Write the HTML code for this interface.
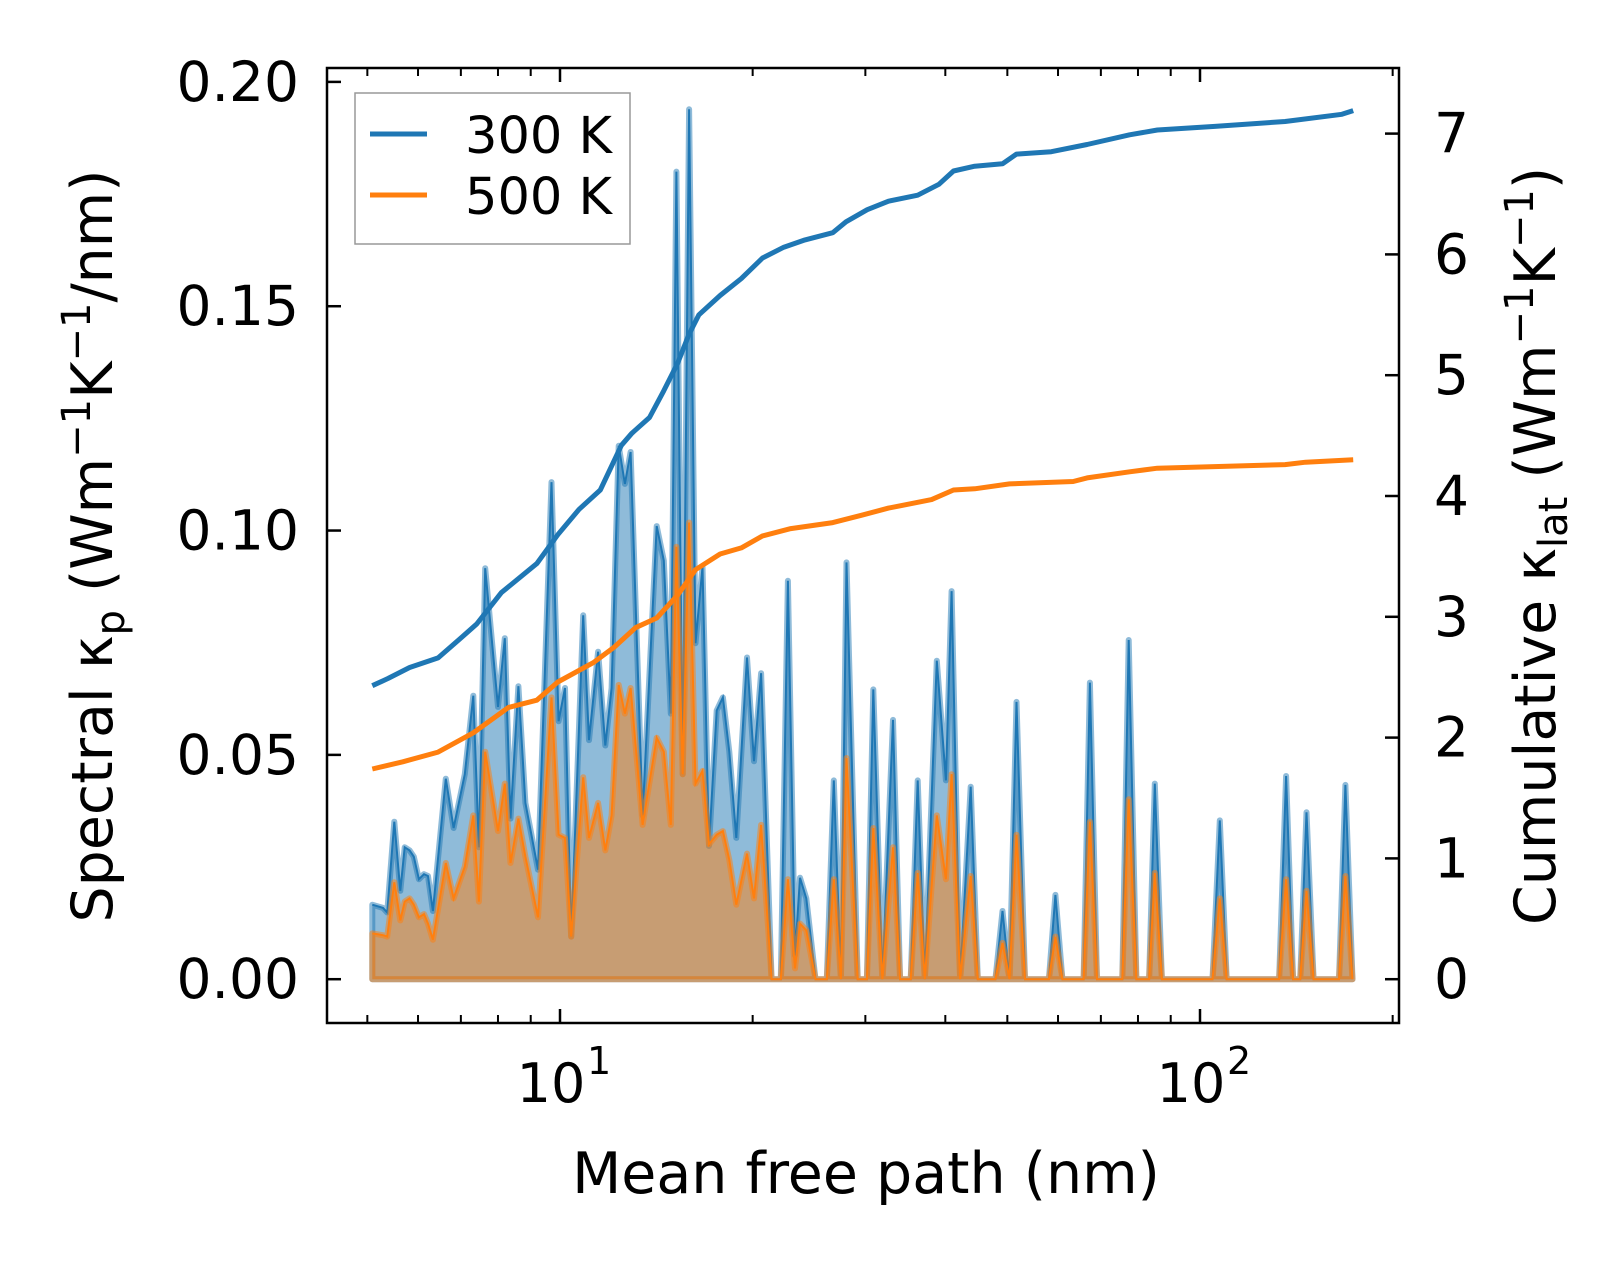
<!DOCTYPE html>
<html><head><meta charset="utf-8"><style>
html,body{margin:0;padding:0;background:#fff;}
svg{display:block;font-family:"DejaVu Sans","Liberation Sans",sans-serif;}
</style></head><body>
<svg id="chart" width="1623" height="1261" viewBox="0 0 1623 1261" xmlns="http://www.w3.org/2000/svg">
<g id="fills"></g><g id="lines"></g><g id="axes"></g>
</svg>
<script>
const mfp = [5.09,5.29,5.37,5.51,5.63,5.72,5.82,5.91,6.02,6.13,6.22,6.33,6.63,6.82,7.10,7.32,7.47,7.64,8.00,8.20,8.37,8.61,8.83,9.24,9.70,9.95,10.18,10.41,10.87,11.10,11.47,11.77,12.04,12.35,12.63,12.89,13.46,14.16,14.53,14.90,15.20,15.55,15.91,16.28,16.70,17.09,17.57,17.97,18.39,18.86,19.60,20.10,20.62,21.41,22.13,22.70,23.29,23.71,24.26,25.07,26.11,26.78,27.47,28.03,29.19,30.17,30.87,31.90,33.14,34.00,35.32,36.22,37.15,38.79,40.09,40.92,42.19,43.83,44.96,47.90,49.13,50.39,51.68,53.28,58.07,59.43,60.95,65.79,67.30,69.03,75.62,77.37,79.56,83.28,84.99,87.19,104.6,107.4,110.1,132.9,136.3,139.8,143.4,146.7,150.5,164.9,168.7,173.1];
const spec300 = [.0166,.0159,.0149,.0351,.0197,.0294,.0287,.0273,.0223,.0234,.0230,.0152,.0447,.0337,.0457,.0632,.0294,.0916,.0607,.0760,.0358,.0653,.0393,.0244,.1108,.0575,.0649,.0095,.0811,.0533,.0730,.0521,.0649,.1189,.1104,.1175,.0365,.1010,.0933,.0592,.1800,.0457,.1939,.0749,.0919,.0297,.0599,.0628,.0507,.0315,.0717,.0486,.0682,0,0,.0888,.0053,.0226,.0180,0,0,.0443,0,.0929,0,0,.0646,0,.0578,0,0,.0443,0,.0710,.0443,.0865,0,.0429,0,0,.0152,0,.0618,0,0,.0188,0,0,.0661,0,0,.0756,0,0,.0436,0,0,.0354,0,0,.0453,0,0,.0372,0,0,.0433,0];
const spec500 = [.0102,.0098,.0095,.0216,.0131,.0173,.0180,.0166,.0138,.0145,.0124,.0088,.0259,.0180,.0251,.0365,.0173,.0507,.0330,.0436,.0259,.0358,.0273,.0138,.0628,.0322,.0315,.0095,.0450,.0315,.0393,.0287,.0365,.0656,.0592,.0649,.0344,.0538,.0507,.0344,.0964,.0457,.1018,.0436,.0464,.0301,.0322,.0330,.0266,.0166,.0280,.0180,.0344,0,0,.0223,.0024,.0124,.0109,0,0,.0223,0,.0493,0,0,.0337,0,.0294,0,0,.0237,0,.0365,.0223,.0457,0,.0230,0,0,.0081,0,.0322,0,0,.0095,0,0,.0351,0,0,.0401,0,0,.0237,0,0,.0180,0,0,.0223,0,0,.0197,0,0,.0230,0];
const cumX300 = [5.09,5.39,5.82,6.45,6.95,7.41,8.10,9.20,9.92,10.71,11.56,12.47,12.95,13.80,14.52,15.27,15.91,16.48,17.79,19.20,20.72,22.37,24.14,26.68,27.98,30.20,32.60,36.22,39.09,41.19,44.46,49.13,51.68,58.56,66.63,77.62,85.80,105.5,135.8,166.6,173.5];
const cum300 = [2.43,2.49,2.58,2.66,2.81,2.94,3.20,3.44,3.68,3.89,4.05,4.42,4.52,4.65,4.87,5.10,5.34,5.50,5.66,5.80,5.97,6.06,6.12,6.18,6.27,6.37,6.44,6.49,6.58,6.69,6.73,6.75,6.83,6.85,6.91,6.99,7.03,7.06,7.10,7.16,7.19];
const cumX500 = [5.09,5.68,6.45,7.32,8.31,9.20,9.92,11.27,12.16,13.12,14.16,15.27,16.28,17.79,19.20,20.72,22.94,26.68,29.57,32.60,38.08,41.19,44.46,50.39,63.37,66.63,77.62,85.80,135.8,146.2,173.5];
const cum500 = [1.74,1.80,1.88,2.04,2.25,2.31,2.46,2.62,2.75,2.91,2.99,3.18,3.39,3.52,3.57,3.67,3.73,3.78,3.84,3.90,3.97,4.05,4.06,4.10,4.12,4.15,4.20,4.23,4.26,4.28,4.30];
const leftTicks = ["0.00","0.05","0.10","0.15","0.20"];
const rightTicks = ["0","1","2","3","4","5","6","7"];

const NS="http://www.w3.org/2000/svg";
const L=327,R=1399,T=68,B=1023;
const X=v=>560+640*(Math.log10(v)-1);
const YL=v=>979.2-v*4486.5;
const YR=v=>979.2-v*120.8;
const BLUE="#1f77b4",ORANGE="#ff7f0e";
function mk(tag,parent,attrs){const e=document.createElementNS(NS,tag);for(const k in attrs)e.setAttribute(k,attrs[k]);parent.appendChild(e);return e;}
const gF=document.getElementById('fills'),gL=document.getElementById('lines'),gA=document.getElementById('axes');

function fillArea(ys,color,name){
  let d="M"+X(mfp[0])+","+YL(0);
  mfp.forEach((x,i)=>{d+=" L"+X(x).toFixed(1)+","+YL(ys[i]).toFixed(1);});
  d+=" L"+X(mfp[mfp.length-1])+","+YL(0)+" Z";
  const p=mk('path',gF,{d:d,fill:color,'fill-opacity':0.5,stroke:color,'stroke-opacity':0.5,'stroke-width':6,'stroke-linejoin':'round'});
  
  
  let d2="";
  mfp.forEach((x,i)=>{d2+=(i?" L":"M")+X(x).toFixed(1)+","+YL(ys[i]).toFixed(1);});
  const l=mk('path',gF,{d:d2,fill:'none',stroke:color,'stroke-width':2});
  
  
}
fillArea(spec300,BLUE,'spectral-300k');
fillArea(spec500,ORANGE,'spectral-500k');

function cumLine(xs,ys,color,name){
  let d="";xs.forEach((x,i)=>{d+=(i?" L":"M")+X(x).toFixed(1)+","+YR(ys[i]).toFixed(1);});
  const p=mk('path',gL,{d:d,fill:'none',stroke:color,'stroke-width':5,'stroke-linejoin':'round'});
  
  
}
cumLine(cumX300,cum300,BLUE,'cumulative-300k');
cumLine(cumX500,cum500,ORANGE,'cumulative-500k');

const fr=mk('rect',gA,{x:L,y:T,width:R-L,height:B-T,fill:'none',stroke:'#000','stroke-width':2.5});


for(let dec=0;dec<=2;dec++){for(let m=1;m<10;m++){const v=m*Math.pow(10,dec);const x=X(v);if(x<L||x>R)continue;
  const len=m===1?14:8,w=m===1?2.5:2;
  mk('line',gA,{x1:x,x2:x,y1:B,y2:B-len,stroke:'#000','stroke-width':w});
  mk('line',gA,{x1:x,x2:x,y1:T,y2:T+len,stroke:'#000','stroke-width':w});
  if(m===1){const t=mk('text',gA,{x:x-9,y:1102,'font-size':54,'text-anchor':'middle'});t.textContent="10";
    
    const s=mk('text',gA,{x:x+27,y:1074,'font-size':38});s.textContent=String(dec);}
}}
leftTicks.forEach(s=>{const y=YL(parseFloat(s));
  mk('line',gA,{x1:L,x2:L+14,y1:y,y2:y,stroke:'#000','stroke-width':2.5});
  const t=mk('text',gA,{x:299,y:y+19,'font-size':55,'text-anchor':'end'});t.textContent=s;
  
  });
rightTicks.forEach(s=>{const y=YR(parseFloat(s));
  mk('line',gA,{x1:R,x2:R-14,y1:y,y2:y,stroke:'#000','stroke-width':2.5});
  const t=mk('text',gA,{x:1434,y:y+19,'font-size':55}) ;t.textContent=s;
  
  });
</script>
<svg style="position:absolute;left:0;top:0" width="1623" height="1261" xmlns="http://www.w3.org/2000/svg" font-family="DejaVu Sans, Liberation Sans, sans-serif">
<text x="866" y="1193" font-size="57" text-anchor="middle">Mean free path (nm)</text>
<text transform="translate(112,546) rotate(-90)" font-size="57" text-anchor="middle">Spectral κ<tspan font-size="40" dy="12">p</tspan><tspan dy="-12"> (Wm</tspan><tspan font-size="40" dy="-22">−1</tspan><tspan dy="22">K</tspan><tspan font-size="40" dy="-22">−1</tspan><tspan dy="22">/nm)</tspan></text>
<text transform="translate(1555,546) rotate(-90)" font-size="57" text-anchor="middle">Cumulative κ<tspan font-size="40" dy="12">lat</tspan><tspan dy="-12"> (Wm</tspan><tspan font-size="40" dy="-22">−1</tspan><tspan dy="22">K</tspan><tspan font-size="40" dy="-22">−1</tspan><tspan dy="22">)</tspan></text>
<g>
<rect x="355" y="93" width="275" height="151" fill="#fff" fill-opacity="0.8" stroke="#999" stroke-width="1.5"/>
<line x1="370" x2="427" y1="134" y2="134" stroke="#1f77b4" stroke-width="5"/>
<text x="465" y="153" font-size="51">300 K</text>
<line x1="370" x2="427" y1="195" y2="195" stroke="#ff7f0e" stroke-width="5"/>
<text x="465" y="214" font-size="51">500 K</text>
</g>
</svg>
</body></html>
